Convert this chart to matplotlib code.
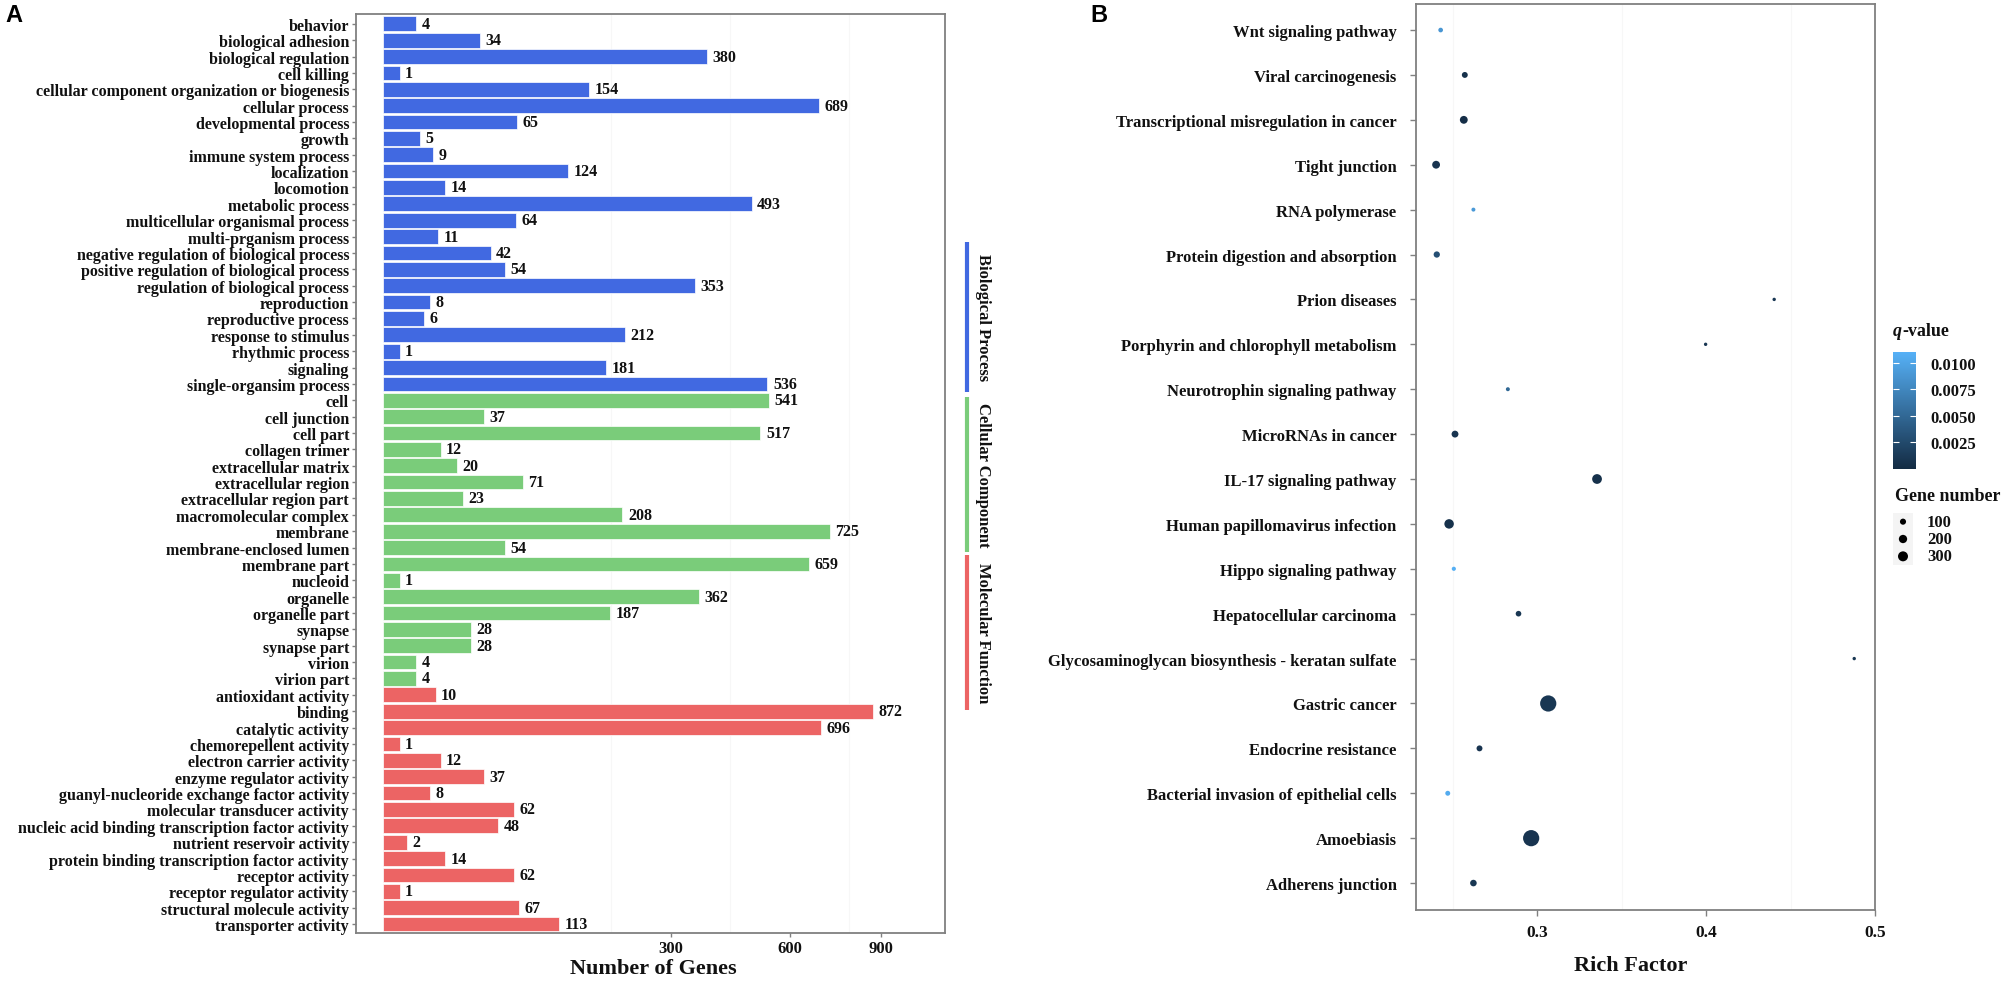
import numpy as np
import matplotlib
matplotlib.use("Agg")
import matplotlib.pyplot as plt
from matplotlib.colors import LinearSegmentedColormap, Normalize
from matplotlib.cm import ScalarMappable

# ---------------- data: panel A (GO categories) ----------------
bp_terms = ["behavior", "biological adhesion", "biological regulation", "cell killing",
            "cellular component organization or biogenesis", "cellular process",
            "developmental process", "growth", "immune system process", "localization",
            "locomotion", "metabolic process", "multicellular organismal process",
            "multi-prganism process", "negative regulation of biological process",
            "positive regulation of biological process", "regulation of biological process",
            "reproduction", "reproductive process", "response to stimulus", "rhythmic process",
            "signaling", "single-organsim process"]
bp_counts = [4, 34, 380, 1, 154, 689, 65, 5, 9, 124, 14, 493, 64, 11, 42, 54, 353, 8, 6, 212, 1, 181, 536]

cc_terms = ["cell", "cell junction", "cell part", "collagen trimer", "extracellular matrix",
            "extracellular region", "extracellular region part", "macromolecular complex",
            "membrane", "membrane-enclosed lumen", "membrane part", "nucleoid", "organelle",
            "organelle part", "synapse", "synapse part", "virion", "virion part"]
cc_counts = [541, 37, 517, 12, 20, 71, 23, 208, 725, 54, 659, 1, 362, 187, 28, 28, 4, 4]

mf_terms = ["antioxidant activity", "binding", "catalytic activity", "chemorepellent activity",
            "electron carrier activity", "enzyme regulator activity",
            "guanyl-nucleoride exchange factor activity", "molecular transducer activity",
            "nucleic acid binding transcription factor activity", "nutrient reservoir activity",
            "protein binding transcription factor activity", "receptor activity",
            "receptor regulator activity", "structural molecule activity", "transporter activity"]
mf_counts = [10, 872, 696, 1, 12, 37, 8, 62, 48, 2, 14, 62, 1, 67, 113]

group_names = ["Biological Process", "Cellular Component", "Molecular Function"]
gene_ticks = [300, 600, 900]

# ---------------- data: panel B (KEGG enrichment) ----------------
pathways = ["Wnt signaling pathway", "Viral carcinogenesis",
            "Transcriptional misregulation in cancer", "Tight junction", "RNA polymerase",
            "Protein digestion and absorption", "Prion diseases",
            "Porphyrin and chlorophyll metabolism", "Neurotrophin signaling pathway",
            "MicroRNAs in cancer", "IL-17 signaling pathway", "Human papillomavirus infection",
            "Hippo signaling pathway", "Hepatocellular carcinoma",
            "Glycosaminoglycan biosynthesis - keratan sulfate", "Gastric cancer",
            "Endocrine resistance", "Bacterial invasion of epithelial cells", "Amoebiasis",
            "Adherens junction"]
rich_factor = [0.2428, 0.2571, 0.2565, 0.2401, 0.2622, 0.2405, 0.4403, 0.3997, 0.2826, 0.2513,
               0.3354, 0.2478, 0.2506, 0.2889, 0.4877, 0.3065, 0.2658, 0.2470, 0.2964, 0.2622]
q_value = [0.0088, 0.0005, 0.0003, 0.0008, 0.0090, 0.0030, 0.0010, 0.0010, 0.0050, 0.0008,
           0.0005, 0.0005, 0.0108, 0.0010, 0.0010, 0.0010, 0.0008, 0.0105, 0.0008, 0.0010]
gene_number = [53, 93, 176, 176, 36, 107, 24, 24, 36, 131,
               286, 268, 40, 83, 24, 846, 93, 61, 846, 119]
q_ticks = [0.0025, 0.0050, 0.0075, 0.0100]
size_legend = [100, 200, 300]
rich_ticks = [0.3, 0.4, 0.5]

# ---------------- style ----------------
W, H = 2008, 987
SERIF = ["Liberation Serif", "DejaVu Serif"]
plt.rcParams["font.family"] = SERIF
plt.rcParams["font.weight"] = "bold"
TXT = "#111111"
SPINE = "#808080"
col_bp, col_cc, col_mf = "#4169E1", "#7ACC7A", "#EC6464"

fig = plt.figure(figsize=(W / 100, H / 100), dpi=100)


def ax_px(x0, y0, x1, y1):
    return fig.add_axes([x0 / W, 1 - y1 / H, (x1 - x0) / W, (y1 - y0) / H])


def sqrt_f(x):
    x = np.asarray(x, dtype=float)
    return np.sign(x) * np.sqrt(np.abs(x))


def sqrt_i(x):
    x = np.asarray(x, dtype=float)
    return np.sign(x) * x ** 2


# ---------------- panel A ----------------
axA = ax_px(356, 15, 945, 934)
terms = bp_terms + cc_terms + mf_terms
counts = bp_counts + cc_counts + mf_counts
colors = [col_bp] * len(bp_terms) + [col_cc] * len(cc_terms) + [col_mf] * len(mf_terms)
ypos = np.arange(len(terms))
axA.set_xscale("function", functions=(sqrt_f, sqrt_i))
for gx in [188.5, 437, 788]:
    axA.axvline(gx, color="#f7f7f7", lw=0.8, zorder=0)
axA.barh(ypos, counts, height=0.9, color=colors, edgecolor="white", linewidth=0.5, zorder=2)
for y, v in zip(ypos, counts):
    axA.annotate(str(v), (v, y), xytext=(4, 0), textcoords="offset points",
                 va="center", ha="left", fontsize=11.5, fontweight="bold", color=TXT)
axA.set_xlim(-2.65, 1146)
axA.set_ylim(len(terms) - 0.45, -0.6)
axA.set_yticks(ypos)
axA.set_yticklabels(terms, fontsize=11.5, fontweight="bold", color=TXT)
axA.set_xticks(gene_ticks)
axA.set_xticklabels([str(t) for t in gene_ticks], fontsize=12, fontweight="bold", color=TXT)
axA.xaxis.set_minor_locator(matplotlib.ticker.NullLocator())
axA.tick_params(axis="y", length=3, width=1, color=SPINE, pad=2)
axA.tick_params(axis="x", length=3, width=1, color=SPINE, pad=2)
for s in axA.spines.values():
    s.set_color(SPINE)
    s.set_linewidth(1.3)
axA.set_xlabel("Number of Genes", fontsize=16, fontweight="bold", color=TXT)
axA.xaxis.label.set_va("center")
axA.xaxis.set_label_coords(0.504, -(969 - 934) / 919)

# side group annotation strips
axS = ax_px(955, 15, 1000, 934)
axS.set_xlim(0, 45)
axS.set_ylim(919, 0)
axS.axis("off")
strips = [(243 - 15, 393 - 15), (398 - 15, 553 - 15), (556 - 15, 711 - 15)]
for (y0, y1), name, c in zip(strips, group_names, [col_bp, col_cc, col_mf]):
    axS.plot([12, 12], [y0, y1], color=c, lw=3, solid_capstyle="butt")
    axS.text(28, (y0 + y1) / 2, name, rotation=270, ha="center", va="center",
             fontsize=12, fontweight="bold", color=TXT)

# ---------------- panel B ----------------
axB = ax_px(1416, 5, 1875, 911)
cmap = LinearSegmentedColormap.from_list("qv", ["#132B43", "#56B1F7"])
norm = Normalize(vmin=0.0, vmax=0.011)


def gene_size(v):
    d_px = 0.8 + 0.53 * np.sqrt(np.asarray(v, dtype=float))
    return (d_px * 0.72) ** 2


yB = np.arange(len(pathways))
for gx in [0.25, 0.35, 0.45]:
    axB.axvline(gx, color="#f7f7f7", lw=0.8, zorder=0)
axB.scatter(rich_factor, yB, s=gene_size(gene_number), c=q_value, cmap=cmap, norm=norm,
            linewidths=0, zorder=3)
axB.set_xlim(0.2282, 0.5)
axB.set_ylim(len(pathways) - 0.4, -0.58)
axB.set_yticks(yB)
axB.set_yticklabels(pathways, fontsize=12, fontweight="bold", color=TXT)
axB.set_xticks(rich_ticks)
axB.set_xticklabels([f"{t:.1f}" for t in rich_ticks], fontsize=12.5, fontweight="bold", color=TXT)
axB.tick_params(axis="y", length=4, width=1, color=SPINE, pad=10)
axB.tick_params(axis="x", length=4, width=1, color=SPINE, pad=6)
for s in axB.spines.values():
    s.set_color(SPINE)
    s.set_linewidth(1.3)
axB.set_xlabel("Rich Factor", fontsize=16, fontweight="bold", color=TXT)
axB.xaxis.label.set_va("center")
axB.xaxis.set_label_coords(0.468, -(966 - 911) / 906)

# colorbar
cax = ax_px(1893, 353, 1916, 470)
cb = fig.colorbar(ScalarMappable(norm=norm, cmap=cmap), cax=cax, ticks=q_ticks)
cb.outline.set_visible(False)
cax.set_yticklabels([f"{t:.4f}" for t in q_ticks], fontsize=12, fontweight="bold", color=TXT)
cax.tick_params(axis="y", direction="in", length=4, width=0.8, color="white",
                left=True, right=True, pad=10)
t_q = fig.text(1893 / W, 1 - 332 / H, "q", fontsize=13, fontweight="bold", style="italic",
               color=TXT, ha="left", va="center")
fig.canvas.draw()
bb = t_q.get_window_extent()
fig.text(bb.x1 / W, 1 - 332 / H, "-value", fontsize=13, fontweight="bold",
         color=TXT, ha="left", va="center")

# size legend
fig.text(1895 / W, 1 - 497 / H, "Gene number", fontsize=13, fontweight="bold",
         color=TXT, ha="left", va="center")
axL = ax_px(1893, 514, 1913, 566)
axL.set_facecolor("#f4f4f4")
for s in axL.spines.values():
    s.set_visible(False)
axL.set_xticks([])
axL.set_yticks([])
ly = np.arange(len(size_legend))
axL.scatter([0.5] * len(size_legend), ly, s=gene_size(size_legend), color="black", linewidths=0)
axL.set_xlim(0, 1)
axL.set_ylim(len(size_legend) - 0.5, -0.5)
for y, v in zip(ly, size_legend):
    axL.annotate(str(v), (1.0, y), xycoords=("axes fraction", "data"), xytext=(10, 0),
                 textcoords="offset points", va="center", ha="left", fontsize=12,
                 fontweight="bold", color=TXT, annotation_clip=False)

# panel letters
fig.text(14 / W, 1 - 15 / H, "A", fontsize=17, fontweight="bold", family="Liberation Sans",
         ha="center", va="center", color="black")
fig.text(1099 / W, 1 - 15 / H, "B", fontsize=17, fontweight="bold", family="Liberation Sans",
         ha="center", va="center", color="black")

fig.savefig("out.png", dpi=100, facecolor="white")
